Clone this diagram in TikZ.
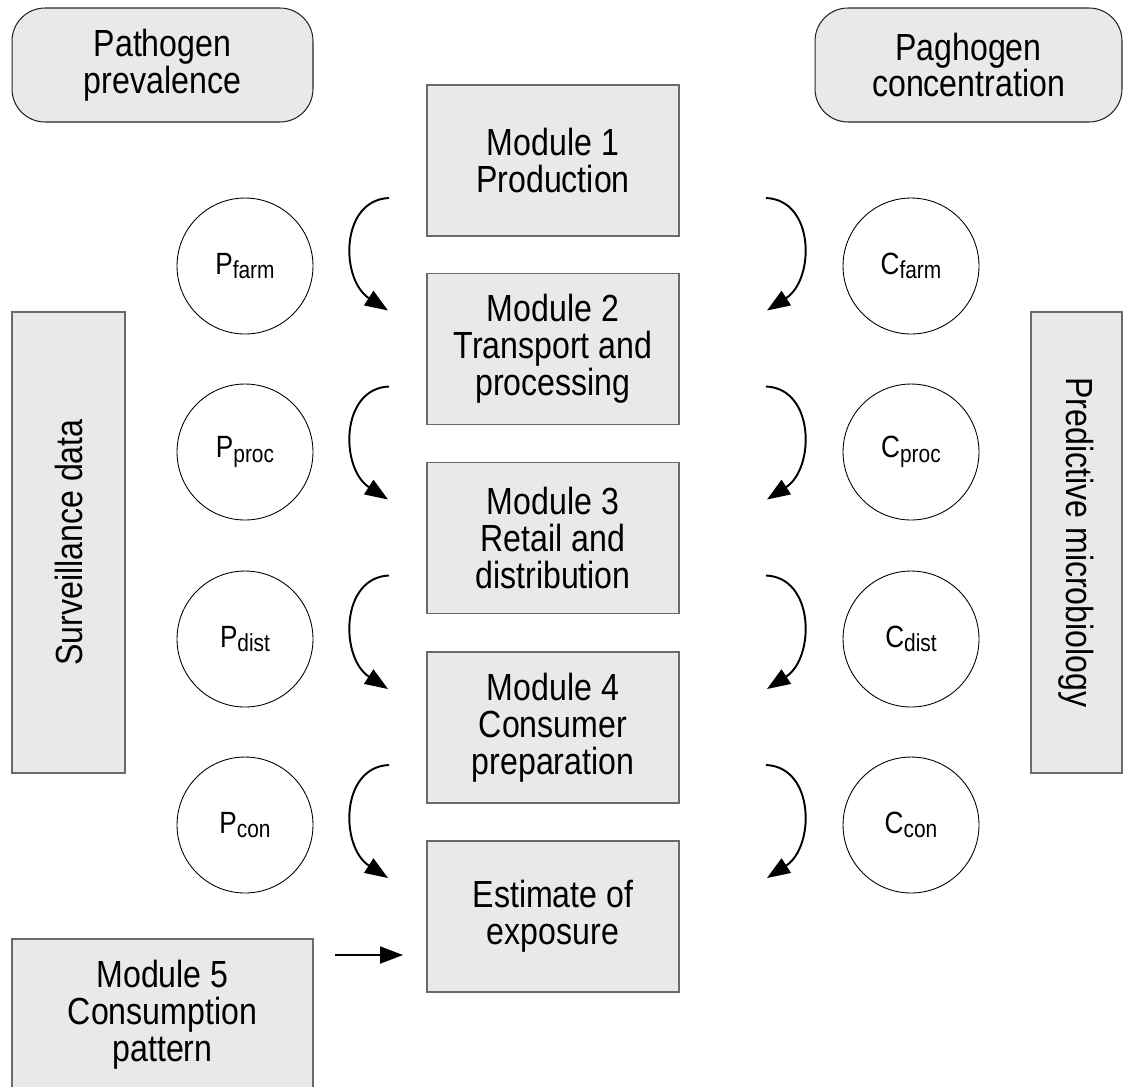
\documentclass[tikz,border=0pt]{standalone}
\usepackage{fontspec}
\setmainfont[FakeStretch=0.85]{Liberation Sans}
\usetikzlibrary{arrows.meta,calc}
\newcommand\bigtxt{\fontsize{21.5}{21}\selectfont}
\newcommand\circtxt[2]{{\fontsize{17.5}{20}\selectfont #1}\raisebox{-2.5pt}{\fontsize{14}{15}\selectfont #2}}
\definecolor{boxfill}{HTML}{E9E9E9}
\definecolor{boxline}{HTML}{6A6A6A}
\tikzset{
  modbox/.style={draw=boxline, fill=boxfill, line width=0.9pt, minimum width=5.04cm, minimum height=3.02cm, align=center, inner sep=0pt, outer sep=0pt, font=\bigtxt},
  rbox/.style={draw=black!85, fill=boxfill, line width=0.6pt, rounded corners=0.66cm, minimum height=2.28cm, align=center, inner sep=0pt, font=\bigtxt},
  tallbox/.style={draw=boxline, fill=boxfill, line width=0.9pt, minimum width=9.22cm, align=center, inner sep=0pt, font=\bigtxt},
  pcirc/.style={circle, draw, line width=0.5pt, minimum size=2.72cm, inner sep=0pt},
  flow/.style={line width=1.1pt, -{Triangle[length=0.46cm,width=0.34cm]}},
}
\begin{document}
\begin{tikzpicture}[x=0.02cm, y=-0.02cm]
\useasboundingbox (0,0) rectangle (1135,1086);
% top rounded boxes
\node[rbox, minimum width=6.02cm] (prev) at (162.5,65) {Pathogen\\prevalence};
\node[rbox, minimum width=6.14cm] (conc) at (968.5,65) {Paghogen\\concentration};
% side tall boxes
\node[tallbox, rotate=90, minimum height=2.26cm] (surv) at (68.5,542.5) {Surveillance data};
\node[tallbox, rotate=-90, minimum height=1.82cm] (pred) at (1076.5,542.5) {Predictive microbiology};
% modules
\node[modbox] (m1) at (553,160.5) {Module 1\\Production};
\node[modbox] (m2) at (553,349) {Module 2\\Transport and\\processing};
\node[modbox] (m3) at (553,538) {Module 3\\Retail and\\distribution};
\node[modbox] (m4) at (553,727.5) {Module 4\\Consumer\\preparation};
\node[modbox] (est) at (553,916.5) {Estimate of\\exposure};
\node[modbox, minimum width=6.02cm] (m5) at (162.5,1014.5) {Module 5\\Consumption\\pattern};
% circles
\node[pcirc] (pfarm) at (245,266) {\circtxt{P}{farm}};
\node[pcirc] (pproc) at (245,452) {\circtxt{P}{proc}};
\node[pcirc] (pdist) at (245,639) {\circtxt{P}{dist}};
\node[pcirc] (pcon) at (245,825) {\circtxt{P}{con}};
\node[pcirc] (cfarm) at (911,266) {\circtxt{C}{farm}};
\node[pcirc] (cproc) at (911,452) {\circtxt{C}{proc}};
\node[pcirc] (cdist) at (911,639) {\circtxt{C}{dist}};
\node[pcirc] (ccon) at (911,825) {\circtxt{C}{con}};
% curved arrows
\foreach \a/\b/\i in {m1/m2/1, m2/m3/2, m3/m4/3, m4/est/4}{
  \coordinate (ls\i) at ($(\a.south west)+(-38,-38)$);
  \coordinate (le\i) at ($(\b.north west)+(-39,37)$);
  \coordinate (rs\i) at ($(\a.south east)+(87,-38)$);
  \coordinate (re\i) at ($(\b.north east)+(88,37)$);
  \draw[flow] (ls\i) .. controls +(-49,2) and +(-48,-31) .. (le\i);
  \draw[flow] (rs\i) .. controls +(49,2) and +(48,-31) .. (re\i);
}
% module 5 arrow
\coordinate (a5s) at (335,955);
\coordinate (a5e) at (403,955);
\draw[flow] (a5s) -- (a5e);
\end{tikzpicture}
\end{document}
